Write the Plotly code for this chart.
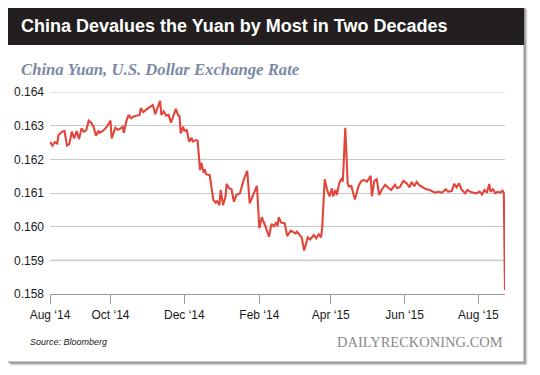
import pandas as pd
import plotly.graph_objects as go

# ---- data ----
start_date = "2014-08-12"
day_offset = [0, 2, 4, 6, 7, 10, 12, 14, 16, 18, 20, 22, 24, 26, 28, 30, 32, 34, 36, 38,
              40, 41, 44, 47, 50, 51, 54, 56, 58, 60, 61, 63, 65, 67, 69, 72, 74, 75, 77, 80,
              84, 85, 87, 89, 91, 92, 94, 96, 98, 100, 102, 104, 106, 107, 108, 110, 111, 113, 115, 117,
              118, 121, 122, 123, 124, 125, 127, 128, 129, 132, 135, 137, 138, 140, 141, 143, 145, 146, 148, 150,
              152, 154, 157, 160, 161, 163, 165, 168, 171, 173, 175, 178, 181, 183, 185, 187, 188, 189, 191, 194,
              196, 199, 201, 203, 204, 206, 208, 210, 213, 215, 218, 220, 222, 224, 225, 227, 229, 231, 233, 234,
              236, 237, 239, 241, 242, 244, 246, 247, 249, 252, 255, 257, 259, 262, 264, 265, 266, 268, 270, 272,
              274, 277, 280, 282, 285, 287, 289, 292, 295, 297, 299, 301, 303, 305, 308, 311, 314, 318, 321, 324,
              327, 329, 332, 334, 336, 338, 340, 343, 345, 347, 350, 352, 355, 357, 359, 361, 363, 364, 366, 368,
              370, 372, 374, 375, 376]
cny_usd = [0.16252, 0.16241, 0.16251, 0.16247, 0.16272, 0.16282, 0.16284, 0.16241, 0.16246, 0.16282,
           0.16262, 0.16284, 0.16260, 0.16292, 0.16282, 0.16287, 0.16315, 0.16309, 0.16297, 0.16270,
           0.16285, 0.16279, 0.16285, 0.16297, 0.16315, 0.16262, 0.16294, 0.16288, 0.16291, 0.16297,
           0.16279, 0.16312, 0.16332, 0.16322, 0.16327, 0.16330, 0.16332, 0.16352, 0.16340, 0.16349,
           0.16358, 0.16361, 0.16334, 0.16352, 0.16374, 0.16332, 0.16342, 0.16330, 0.16332, 0.16309,
           0.16332, 0.16350, 0.16330, 0.16329, 0.16277, 0.16297, 0.16285, 0.16287, 0.16252, 0.16264,
           0.16253, 0.16257, 0.16255, 0.16208, 0.16168, 0.16190, 0.16160, 0.16170, 0.16156, 0.16153,
           0.16079, 0.16071, 0.16077, 0.16064, 0.16109, 0.16064, 0.16089, 0.16127, 0.16114, 0.16111,
           0.16074, 0.16094, 0.16099, 0.16139, 0.16149, 0.16166, 0.16069, 0.16094, 0.16121, 0.15995,
           0.16028, 0.16001, 0.15970, 0.16008, 0.16001, 0.16013, 0.16001, 0.16028, 0.16012, 0.16010,
           0.15972, 0.15988, 0.15985, 0.15980, 0.15985, 0.15975, 0.15968, 0.15929, 0.15968, 0.15962,
           0.15975, 0.15965, 0.15977, 0.15968, 0.16000, 0.16141, 0.16109, 0.16090, 0.16114, 0.16090,
           0.16109, 0.16094, 0.16129, 0.16144, 0.16134, 0.16294, 0.16129, 0.16119, 0.16121, 0.16081,
           0.16121, 0.16134, 0.16139, 0.16134, 0.16144, 0.16151, 0.16090, 0.16136, 0.16141, 0.16094,
           0.16109, 0.16124, 0.16114, 0.16109, 0.16124, 0.16114, 0.16117, 0.16136, 0.16128, 0.16117,
           0.16133, 0.16120, 0.16133, 0.16124, 0.16117, 0.16111, 0.16109, 0.16101, 0.16104, 0.16101,
           0.16111, 0.16104, 0.16106, 0.16127, 0.16117, 0.16129, 0.16111, 0.16099, 0.16109, 0.16104,
           0.16101, 0.16099, 0.16104, 0.16096, 0.16109, 0.16101, 0.16127, 0.16104, 0.16111, 0.16099,
           0.16104, 0.16101, 0.16107, 0.16099, 0.15812]

x_tick_dates = ["2014-08-12", "2014-10-01", "2014-12-01", "2015-02-01",
                "2015-04-01", "2015-06-01", "2015-08-01"]
x_tick_labels = ["Aug \u201814", "Oct \u201814", "Dec \u201814", "Feb \u201814",
                 "Apr \u201815", "Jun \u201815", "Aug \u201815"]
y_ticks = [0.158, 0.159, 0.160, 0.161, 0.162, 0.163, 0.164]
y_tick_labels = ["0.158", "0.159", "0.160", "0.161", "0.162", "0.163", "0.164"]
x_range = ["2014-08-12", "2015-08-23"]

title = "China Devalues the Yuan by Most in Two Decades"
subtitle = "China Yuan, U.S. Dollar Exchange Rate"
source = "Source: Bloomberg"
brand = "DAILYRECKONING.COM"

dates = pd.Timestamp(start_date) + pd.to_timedelta(day_offset, unit="D")

# ---- geometry (page pixels; the page body has an 8px default margin) ----
PAGE_W, PAGE_H = 540, 375
BODY = 8
PL, PR, PT, PB = 50, 505, 92, 294          # plot area in page pixels
W, H = PAGE_W - BODY, PAGE_H - BODY
L, R, T, B = PL - BODY, PAGE_W - PR, PT - BODY, PAGE_H - PB


def px(x):
    return (x - PL) / (PR - PL)


def py(y):
    return (PB - y) / (PB - PT)


fig = go.Figure()
fig.add_trace(go.Scatter(x=dates, y=cny_usd, mode="lines",
                         line=dict(color="#e2463b", width=2.1),
                         hoverinfo="x+y", showlegend=False))

shapes = []
# shadow
for off, col in [(3.5, "rgba(0,0,0,0.10)"), (2.5, "rgba(0,0,0,0.15)"), (1.5, "rgba(0,0,0,0.25)")]:
    shapes.append(dict(type="rect", xref="paper", yref="paper", layer="below",
                       x0=px(7.5 + off), x1=px(524 + off), y0=py(362 + off), y1=py(6 + off),
                       line=dict(width=0), fillcolor=col))
# card
shapes.append(dict(type="rect", xref="paper", yref="paper", layer="below",
                   x0=px(7.5), x1=px(524), y0=py(362), y1=py(6),
                   line=dict(color="#9a9a9a", width=1), fillcolor="white"))
# black title bar
shapes.append(dict(type="rect", xref="paper", yref="paper", layer="below",
                   x0=px(7.5), x1=px(524), y0=py(45), y1=py(6),
                   line=dict(width=0), fillcolor="#231f20"))
# lighter, thicker grid lines at top and 0.159
for yv in (y_ticks[-1], y_ticks[1]):
    shapes.append(dict(type="line", xref="paper", yref="y", layer="below",
                       x0=0, x1=1, y0=yv, y1=yv,
                       line=dict(color="#e3e3e3", width=2)))

annotations = [
    dict(text=f"<b>{title}</b>", xref="paper", yref="paper", x=px(19), y=py(26),
         xanchor="left", yanchor="middle", showarrow=False,
         font=dict(family="Liberation Sans, Arial, sans-serif", size=18, color="white")),
    dict(text=f"<b><i>{subtitle}</i></b>", xref="paper", yref="paper", x=px(19), y=py(70),
         xanchor="left", yanchor="middle", showarrow=False,
         font=dict(family="Liberation Serif, Times New Roman, serif", size=16.7, color="#7b89a5")),
    dict(text=f"<i>{source}</i>", xref="paper", yref="paper", x=px(28), y=py(342),
         xanchor="left", yanchor="middle", showarrow=False,
         font=dict(family="Liberation Sans, Arial, sans-serif", size=9, color="#222222")),
    dict(text=brand, xref="paper", yref="paper", x=px(505), y=py(342),
         xanchor="right", yanchor="middle", showarrow=False,
         font=dict(family="Liberation Serif, Times New Roman, serif", size=14.5, color="#8a8a8a")),
]

fig.update_layout(
    width=W, height=H,
    margin=dict(l=L, r=R, t=T, b=B, pad=0, autoexpand=False),
    paper_bgcolor="white", plot_bgcolor="rgba(0,0,0,0)",
    shapes=shapes, annotations=annotations,
    font=dict(family="Liberation Sans, Arial, sans-serif", size=12, color="#1a1a1a"),
    xaxis=dict(type="date", range=x_range, tickmode="array", automargin=False,
               tickvals=x_tick_dates, ticktext=x_tick_labels,
               showgrid=False, showline=True, linecolor="#9a9a9a", linewidth=1,
               ticks="outside", ticklen=9, tickcolor="#9a9a9a", tickwidth=1,
               tickfont=dict(size=12), zeroline=False, fixedrange=True,
               ticklabelstandoff=1),
    yaxis=dict(range=[0.158, 0.164], tickmode="array", tickvals=y_ticks, automargin=False,
               ticktext=y_tick_labels, showgrid=True, gridcolor="#c9c9c9", gridwidth=1,
               showline=False, zeroline=False, ticks="", tickfont=dict(size=12),
               ticklabelstandoff=5, fixedrange=True),
)

fig.write_html("out.html")
